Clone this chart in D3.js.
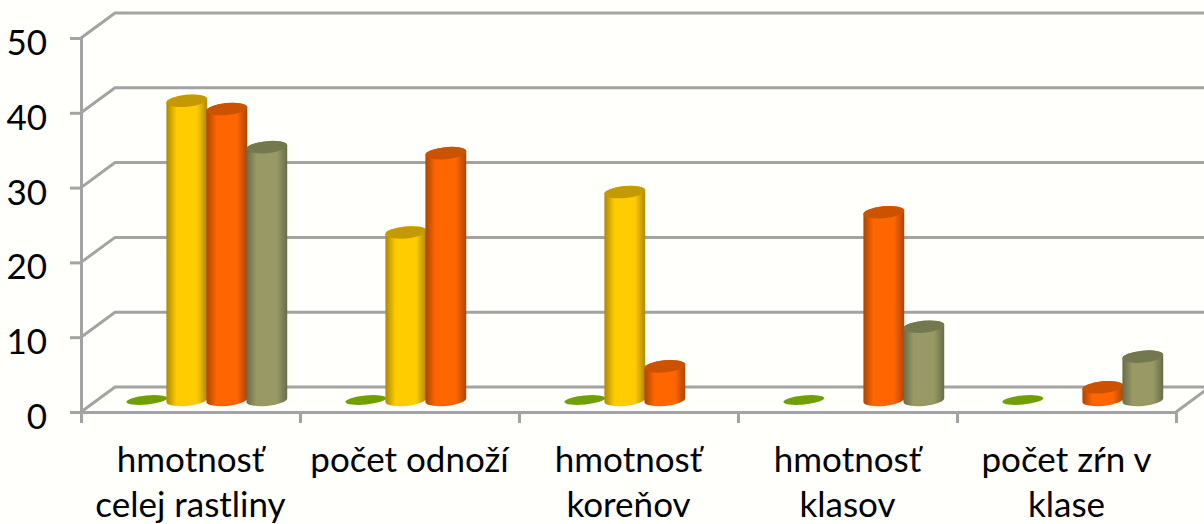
<!DOCTYPE html>
<html>
<head>
<meta charset="utf-8">
<script src="https://cdn.jsdelivr.net/npm/d3@7"></script>
<style>
  html, body { margin: 0; padding: 0; background: #fffffc; overflow: hidden; }
  text { font-family: Lato, "Open Sans", sans-serif; fill: #000; }
</style>
</head>
<body>
<svg id="chart" width="1204" height="524"></svg>
<script>
const categories = [
  ['hmotnosť', 'celej rastliny'],
  ['počet odnoží'],
  ['hmotnosť', 'koreňov'],
  ['hmotnosť', 'klasov'],
  ['počet zŕn v', 'klase']
]
const seriesNames = ['s1', 's2', 's3', 's4']
// null = stĺpec sa nekreslí
const s1Values = [0, 0, 0, 0, 0]
const s2Values = [40, 22.4, 27.8, null, null]
const s3Values = [38.9, 33, 4.5, 25.1, 1.7]
const s4Values = [33.8, null, null, 9.8, 5.8]
const yTicks = [0, 10, 20, 30, 40, 50]

const seriesValues = [s1Values, s2Values, s3Values, s4Values]
const seriesColors = [
  { edge: '#5f8a00', mid: '#6f9f00', top: '#6f9f00' },
  { edge: '#ad8800', mid: '#ffcc00', top: '#c49a00' },
  { edge: '#ad4500', mid: '#ff6600', top: '#cc5200' },
  { edge: '#686c48', mid: '#999966', top: '#73784f' }
]

const svg = d3.select('#chart')
const gridColor = '#a3a3a3'
const depthX = 34, depthY = -25   // posun zadnej steny
const barDepth = 0.48             // poloha stĺpcov v hĺbke
const rx = 20.5, ry = 6, tilt = -5.5

const y = d3.scaleLinear().domain([0, 50]).range([412, 38])
const x0 = d3.scaleBand().domain(d3.range(categories.length)).range([81, 1176])
const x1 = d3.scaleBand().domain(seriesNames).range([29.5, 189.5])

// prechody na valcoch
const defs = svg.append('defs')
seriesColors.forEach((c, i) => {
  const grad = defs.append('linearGradient').attr('id', 'cyl' + i)
  grad.append('stop').attr('offset', '0%').attr('stop-color', c.edge)
  grad.append('stop').attr('offset', '25%').attr('stop-color', c.mid)
  grad.append('stop').attr('offset', '75%').attr('stop-color', c.mid)
  grad.append('stop').attr('offset', '100%').attr('stop-color', c.edge)
})

// mriežka a steny
const grid = svg.append('g')
  .attr('fill', 'none')
  .attr('stroke', gridColor)
  .attr('stroke-width', 3)

grid.selectAll('path.grid').data(yTicks).join('path')
  .attr('class', 'grid')
  .attr('d', d => `M${x0.range()[0]},${y(d)}l${depthX},${depthY}H1204`)

grid.append('path')
  .attr('d', `M${x0.range()[1]},${y(0)}l${depthX},${depthY}`)

// osi
const yAxis = d3.axisLeft(y).tickValues(yTicks).tickSize(11).tickPadding(23).tickFormat(d3.format('d'))
const yG = svg.append('g').attr('transform', `translate(${x0.range()[0]},0)`).call(yAxis)
yG.select('.domain').attr('stroke', gridColor).attr('stroke-width', 3)
yG.selectAll('.tick line').attr('stroke', gridColor).attr('stroke-width', 3)
yG.selectAll('.tick text').style('font-size', '35px').attr('dy', '0.47em')

const edges = d3.scalePoint().domain(d3.range(categories.length + 1)).range(x0.range())
const xAxis = d3.axisBottom(edges).tickSize(11).tickSizeOuter(0).tickFormat('')
const xG = svg.append('g').attr('transform', `translate(0,${y(0)})`).call(xAxis)
xG.select('.domain').attr('stroke', gridColor).attr('stroke-width', 3)
xG.selectAll('.tick line').attr('stroke', gridColor).attr('stroke-width', 3)

// popisy kategórií
const labels = svg.append('g').attr('text-anchor', 'middle').style('font-size', '35px')
labels.selectAll('text').data(categories).join('text')
  .attr('transform', (_, i) => `translate(${x0(i) + x0.bandwidth() / 2},0)`)
  .each(function (lines) {
    d3.select(this).selectAll('tspan').data(lines).join('tspan')
      .attr('x', 0)
      .attr('y', (_, i) => 472 + 45 * i)
      .text(d => d)
  })

// valec: telo a vrchná elipsa
const rad = tilt * Math.PI / 180
const dx = rx * Math.cos(rad), dy = rx * Math.sin(rad)

function cylinderPath(cx, yTop, yBase) {
  return `M${cx - dx},${yTop - dy}L${cx - dx},${yBase - dy}` +
    `A${rx},${ry} ${tilt} 0 0 ${cx + dx},${yBase + dy}` +
    `L${cx + dx},${yTop + dy}A${rx},${ry} ${tilt} 0 0 ${cx - dx},${yTop - dy}Z`
}

const zeroY = y(0) + barDepth * depthY
const bars = []
seriesNames.forEach((name, s) => {
  seriesValues[s].forEach((v, c) => {
    if (v !== null) bars.push({ s: s, c: c, name: name, v: v })
  })
})

const gBars = svg.append('g')
const bar = gBars.selectAll('g.bar').data(bars).join('g').attr('class', 'bar')
bar.each(function (d) {
  const cx = x0(d.c) + x1(d.name) + x1.bandwidth() / 2 + barDepth * depthX
  const top = zeroY - (y(0) - y(d.v))
  const g = d3.select(this)
  if (d.v > 0) {
    g.append('path')
      .attr('d', cylinderPath(cx, top, zeroY))
      .attr('fill', `url(#cyl${d.s})`)
  }
  g.append('ellipse')
    .attr('cx', cx)
    .attr('cy', top)
    .attr('rx', rx)
    .attr('ry', d.v > 0 ? ry : 4.5)
    .attr('transform', `rotate(${tilt} ${cx} ${top})`)
    .attr('fill', seriesColors[d.s].top)
})
</script>
</body>
</html>
